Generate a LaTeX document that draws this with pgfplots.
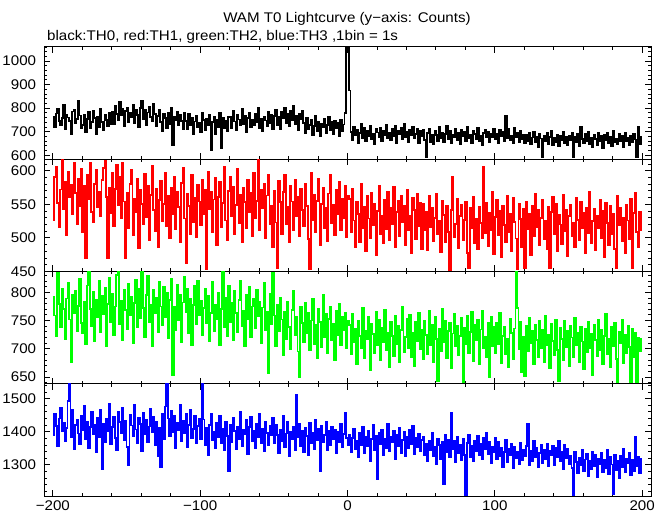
\documentclass[border=0pt]{standalone}
\usepackage{fontspec}
\setmainfont{Liberation Sans}[FakeStretch=1.08]
\usepackage{pgfplots}
\pgfplotsset{compat=1.18}
\usepackage{pgfplotstable}
\pgfplotstableread{
x a b c d
-200 763 527 792 1390
-199 721 591 759 1454
-198 777 606 723 1418
-197 797 552 835 1358
-196 744 516 780 1440
-195 730 572 738 1471
-194 758 617 806 1401
-193 814 543 771 1427
-192 710 583 717 1372
-191 772 504 789 1412
-190 760 598 817 1493
-189 747 560 752 1550
-188 688 579 676 1383
-187 786 535 796 1465
-186 791 611 764 1349
-185 735 567 803 1420
-184 753 521 731 1436
-183 833 588 776 1395
-182 769 548 824 1364
-181 716 603 746 1449
-180 729 509 727 1406
-179 770 577 783 1478
-178 697 470 708 1377
-177 754 594 812 1431
-176 783 557 837 1352
-175 714 612 770 1415
-174 740 539 741 1459
-173 789 523 801 1392
-172 757 580 713 1422
-171 688 601 787 1339
-170 765 546 757 1443
-169 718 569 820 1385
-168 795 532 730 1467
-167 742 586 794 1288
-166 705 604 762 1425
-165 773 615 808 1368
-164 751 561 704 1438
-163 723 470 779 1403
-162 780 575 826 1484
-161 732 537 748 1362
-160 785 596 798 1414
-159 733 518 724 1446
-158 810 573 775 1381
-157 776 609 831 1346
-156 751 549 837 1461
-155 825 590 743 1429
-154 769 529 784 1397
-153 797 612 716 1472
-152 724 554 804 1374
-151 788 470 769 1433
-150 803 567 735 1355
-149 742 515 815 1298
-148 779 580 760 1451
-147 760 601 792 1419
-146 816 504 710 1388
-145 737 558 781 1480
-144 791 538 822 1407
-143 772 588 739 1366
-142 718 485 807 1442
-141 800 572 754 1423
-140 832 551 837 1343
-139 755 521 772 1458
-138 794 595 721 1393
-137 729 531 796 1437
-136 782 578 829 1370
-135 807 497 747 1416
-134 764 564 778 1469
-133 746 607 705 1400
-132 818 542 805 1445
-131 774 510 763 1360
-130 722 573 790 1430
-129 768 487 729 1326
-128 793 556 818 1413
-127 740 585 775 1292
-126 703 525 742 1455
-125 775 550 810 1379
-124 759 597 756 1476
-123 717 518 799 1545
-122 782 562 719 1440
-121 734 500 786 1387
-120 803 575 823 1462
-119 642 536 653 1399
-118 765 590 774 1448
-117 748 513 733 1351
-116 786 569 814 1426
-115 726 546 750 1404
-114 772 493 795 1481
-113 744 582 712 1371
-112 713 604 782 1434
-111 778 529 828 1396
-110 746 463 765 1453
-109 713 565 806 1353
-108 774 548 728 1421
-107 729 506 788 1466
-106 760 593 706 1382
-105 691 524 777 1408
-104 743 559 812 1447
-103 768 501 744 1365
-102 718 579 821 1417
-101 737 554 759 1439
-100 699 519 785 1379
-99 782 586 724 1545
-98 749 535 772 1437
-97 706 572 807 1360
-96 756 453 745 1413
-95 726 598 793 1329
-94 771 543 713 1420
-93 623 568 764 1455
-92 740 508 818 1374
-91 762 557 731 1399
-90 690 589 777 1352
-89 751 490 753 1428
-88 721 561 799 1385
-87 778 583 707 1448
-86 630 516 770 1365
-85 759 552 837 1409
-84 714 605 738 1344
-83 744 526 790 1431
-82 702 497 722 1387
-81 765 570 812 1281
-80 763 591 748 1422
-79 715 533 781 1370
-78 790 576 715 1441
-77 743 505 802 1403
-76 707 549 763 1348
-75 772 602 729 1416
-74 752 522 786 1378
-73 726 564 820 1460
-72 798 494 741 1358
-71 733 574 768 1407
-70 768 553 704 1392
-69 698 514 795 1435
-68 759 587 752 1333
-67 780 539 809 1414
-66 721 567 720 1446
-65 749 502 775 1373
-64 729 596 789 1402
-63 776 530 737 1351
-62 740 555 804 1425
-61 803 617 758 1383
-60 716 512 783 1453
-59 755 571 710 1367
-58 704 544 773 1410
-57 765 581 816 1342
-56 748 499 733 1430
-55 725 563 766 1396
-54 786 594 656 1361
-53 736 520 797 1419
-52 771 548 744 1390
-51 710 486 835 1443
-50 767 570 759 1366
-49 793 523 705 1422
-48 728 455 778 1391
-47 761 585 731 1336
-46 712 553 790 1407
-45 784 506 752 1371
-44 756 568 689 1448
-43 802 594 766 1353
-42 737 520 718 1395
-41 774 546 783 1430
-40 723 493 739 1325
-39 789 578 700 1401
-38 748 554 769 1377
-37 810 511 802 1414
-36 733 587 724 1344
-35 768 532 756 1510
-34 705 561 695 1383
-33 777 502 650 1423
-32 754 573 774 1358
-31 787 541 745 1403
-30 737 517 712 1339
-29 696 580 781 1412
-28 759 548 728 1387
-27 712 498 763 1330
-26 730 453 697 1426
-25 751 596 750 1365
-24 684 527 788 1398
-23 724 564 709 1349
-22 766 509 742 1437
-21 703 555 684 1376
-20 743 588 771 1409
-19 681 490 747 1281
-18 733 551 703 1418
-17 718 575 795 1369
-16 755 514 721 1390
-15 695 545 762 1431
-14 728 495 692 1345
-13 762 566 753 1402
-12 707 593 775 1361
-11 741 522 715 1416
-10 689 549 744 1379
-9 747 504 680 1407
-8 714 571 768 1337
-7 736 536 725 1399
-6 680 583 779 1370
-5 752 512 707 1424
-4 701 558 757 1355
-3 731 529 733 1394
-2 780 577 764 1456
-1 1150 501 701 1381
0 1150 562 750 1359
1 875 558 742 1390
2 700 508 690 1339
3 666 573 761 1381
4 721 526 712 1410
5 685 487 735 1348
6 709 554 673 1372
7 653 535 749 1323
8 694 494 723 1396
9 733 581 701 1361
10 674 515 772 1415
11 715 546 684 1335
12 661 481 731 1383
13 702 563 718 1356
14 682 529 756 1402
15 726 500 663 1311
16 670 567 744 1377
17 692 519 726 1420
18 646 550 692 1345
19 711 474 765 1388
20 697 540 706 1257
21 676 578 751 1397
22 718 505 680 1364
23 659 533 737 1407
24 705 492 711 1328
25 687 557 769 1379
26 729 513 697 1352
27 672 569 728 1423
28 696 497 668 1341
29 664 544 748 1386
30 712 521 722 1369
31 680 576 687 1403
32 723 486 758 1318
33 650 538 709 1392
34 703 555 741 1358
35 689 503 676 1411
36 717 562 733 1337
37 668 524 775 1374
38 735 548 694 1399
39 678 490 721 1326
40 699 571 753 1384
41 656 511 702 1350
42 708 532 760 1405
43 684 478 685 1363
44 720 559 729 1418
45 671 541 670 1332
46 691 498 747 1380
47 714 566 714 1354
48 652 517 764 1395
49 704 552 699 1343
50 681 483 734 1376
51 708 551 682 1383
52 665 512 749 1329
53 592 538 725 1364
54 693 482 691 1312
55 714 563 767 1371
56 657 516 707 1344
57 687 545 742 1396
58 649 495 676 1326
59 702 530 757 1355
60 685 566 717 1303
61 661 506 642 1378
62 719 525 736 1361
63 674 479 696 1318
64 697 555 771 1368
65 654 534 712 1242
66 690 493 750 1390
67 723 547 683 1339
68 670 509 732 1375
69 704 452 745 1322
70 652 542 666 1456
71 688 590 727 1347
72 678 501 762 1372
73 711 521 704 1307
74 663 558 740 1385
75 694 485 689 1336
76 646 533 723 1360
77 707 549 755 1315
78 680 497 637 1379
79 699 527 737 1331
80 658 554 708 1207
81 720 478 759 1366
82 671 455 693 1392
83 686 544 730 1324
84 651 514 766 1357
85 703 561 679 1310
86 691 492 743 1373
87 667 529 715 1343
88 716 483 751 1388
89 659 546 672 1328
90 683 522 734 1363
91 643 500 768 1316
92 696 605 701 1380
93 709 507 721 1349
94 675 552 686 1398
95 701 488 746 1333
96 655 537 650 1369
97 692 511 756 1305
98 677 568 705 1354
99 713 476 739 1340
100 668 531 692 1382
101 689 556 745 1317
102 650 504 708 1369
103 706 540 764 1326
104 681 471 675 1352
105 698 548 723 1294
106 662 519 739 1340
107 768 494 690 1375
108 673 563 718 1307
109 710 509 667 1347
110 666 535 753 1331
111 684 481 728 1362
112 653 559 682 1289
113 717 524 736 1354
114 678 499 837 1321
115 693 453 772 1338
116 657 550 700 1302
117 702 528 747 1367
118 669 487 659 1314
119 687 543 721 1344
120 652 455 651 1327
121 686 554 740 1357
122 659 513 696 1425
123 694 536 755 1299
124 646 475 710 1342
125 675 547 731 1311
126 699 502 673 1372
127 654 565 742 1324
128 680 516 716 1350
129 633 541 686 1292
130 690 490 749 1336
131 671 530 702 1360
132 592 557 733 1305
133 683 498 677 1345
134 661 526 758 1316
135 697 484 706 1364
136 649 546 725 1295
137 677 455 665 1341
138 705 538 744 1328
139 642 561 714 1356
140 672 505 689 1298
141 657 551 752 1351
142 688 480 698 1322
143 637 534 643 1371
144 681 520 737 1310
145 665 491 717 1339
146 701 564 680 1287
147 651 510 750 1359
148 676 542 703 1319
149 645 473 732 1348
150 684 532 670 1303
151 663 549 741 1327
152 695 503 720 1291
153 592 523 685 1210
154 678 486 754 1338
155 655 560 707 1309
156 692 527 728 1274
157 640 496 676 1322
158 720 553 739 1299
159 669 514 713 1346
160 650 537 664 1281
161 689 477 735 1316
162 660 545 694 1333
163 698 507 748 1267
164 648 569 701 1311
165 674 492 726 1287
166 634 525 654 1340
167 685 543 743 1296
168 670 482 715 1329
169 643 533 687 1264
170 696 515 752 1319
171 659 556 697 1303
172 682 500 734 1335
173 631 540 672 1278
174 687 471 722 1314
175 666 552 761 1290
176 693 522 691 1344
177 653 489 718 1272
178 677 547 668 1323
179 639 505 738 1301
180 703 535 705 1212
181 656 484 746 1331
182 671 455 682 1285
183 647 562 640 1312
184 690 519 730 1259
185 662 544 710 1328
186 681 495 751 1294
187 635 530 675 1348
188 694 478 724 1279
189 658 549 693 1318
190 675 526 740 1304
191 641 498 703 1336
192 684 558 639 1270
193 654 455 736 1315
194 691 537 686 1282
195 667 567 729 1384
196 592 509 638 1297
197 720 487 720 1325
198 646 539 696 1275
199 680 512 717 1317
200 680 512 717 1317
}\data

\pgfplotsset{
  panel/.style={
    scale only axis, width=607bp, height=112.25bp,
    anchor=south west,
    xmin=-206, xmax=206,
    xtick={-200,-100,0,100,200},
    minor x tick num=4,
    tick align=inside,
    major tick length=6bp, minor tick length=3bp,
    every tick/.style={black, line width=0.9pt},
    axis line style={line width=1pt},
    tick label style={font=\fontsize{14bp}{16bp}\selectfont},
    /pgf/number format/assume math mode=true,
    /pgf/number format/1000 sep={},
    yticklabel style={xshift=-3bp},
    xticklabels={},
  },
  curve/.style={const plot, line width=1.8pt, mark=none},
}

\begin{document}
\fontsize{14bp}{16bp}\selectfont
\begin{tikzpicture}
\path[use as bounding box] (-44bp,-19bp) rectangle (625bp,496bp);

\begin{axis}[panel, at={(0bp,336.75bp)},
  ymin=583, ymax=1060, ytick={600,700,800,900,1000},
  minor ytick={580,600,...,1060}]
\addplot[curve, black] table[x=x, y=a] {\data};
\end{axis}

\begin{axis}[panel, at={(0bp,224.5bp)},
  ymin=450, ymax=617, ytick={450,500,550,600},
  minor ytick={450,460,...,620}]
\addplot[curve, color={rgb,255:red,255;green,0;blue,0}] table[x=x, y=b] {\data};
\end{axis}

\begin{axis}[panel, at={(0bp,112.25bp)},
  ymin=638, ymax=837, ytick={650,700,750,800},
  minor ytick={640,650,...,840}]
\addplot[curve, color={rgb,255:red,0;green,255;blue,0}] table[x=x, y=c] {\data};
\end{axis}

\begin{axis}[panel, at={(0bp,0bp)},
  ymin=1206, ymax=1545, ytick={1300,1400,1500},
  minor ytick={1200,1220,...,1540},
  xticklabels={−200,−100,0,100,200}]
\addplot[curve, color={rgb,255:red,0;green,0;blue,255}] table[x=x, y=d] {\data};
\end{axis}

\node[anchor=base] at (303bp,473bp) {WAM T0 Lightcurve (y−axis: Counts)};
\node[anchor=base west, inner sep=0pt] at (3bp,455bp) {black:TH0, red:TH1, green:TH2, blue:TH3 ,1bin = 1s};
\end{tikzpicture}
\end{document}
